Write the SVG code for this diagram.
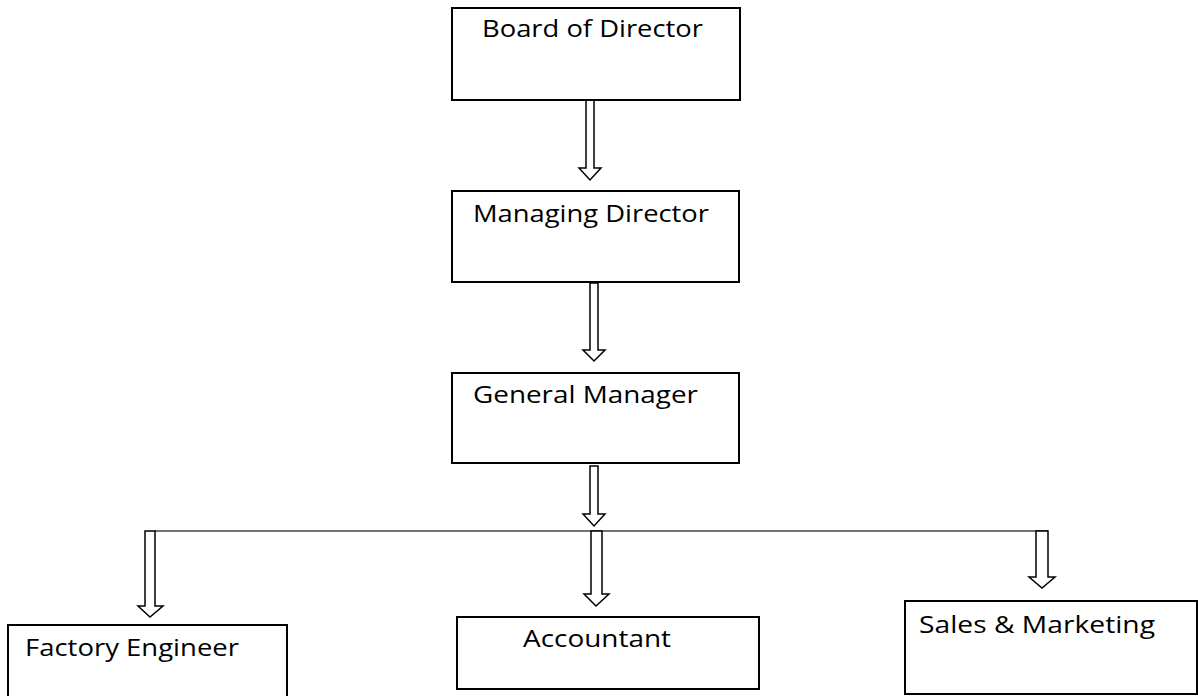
<svg xmlns="http://www.w3.org/2000/svg" width="1198" height="696" viewBox="0 0 1198 696">
<style>
.box{fill:#fff;stroke:#000;stroke-width:2}
.lbl{font-family:"Open Sans","Liberation Sans",Arial,sans-serif;font-size:23.5px;fill:#000}
.arr{fill:#fff;stroke:#000;stroke-width:1.5;stroke-linejoin:miter}
.bus{stroke:#444;stroke-width:1.3;fill:none}
</style>
<rect width="1198" height="696" fill="#fff"/>
<g id="connectors">
<line class="bus" x1="155" y1="531" x2="1048" y2="531"/>
<polygon class="arr" points="586,100 594,100 594,168 601,168 590,180 579,168 586,168"/>
<polygon class="arr" points="590,283 598,283 598,350 605,350 594,361 583,350 590,350"/>
<polygon class="arr" points="590,466 598,466 598,514 605,514 594,526 583,514 590,514"/>
<polygon class="arr" points="145,531 155,531 155,606 163,606 150,617 138,606 145,606"/>
<polygon class="arr" points="591,531 602,531 602,594 609,594 596,606 584,594 591,594"/>
<polygon class="arr" points="1036,531 1048,531 1048,577 1055,577 1042,588 1029,577 1036,577"/>
</g>
<g id="board">
<rect class="box" x="452" y="8" width="288" height="92"/>
<text class="lbl" x="482" y="37" textLength="221" lengthAdjust="spacingAndGlyphs">Board of Director</text>
</g>
<g id="managing">
<rect class="box" x="452" y="191" width="287" height="91"/>
<text class="lbl" x="473" y="222" textLength="236" lengthAdjust="spacingAndGlyphs">Managing Director</text>
</g>
<g id="general">
<rect class="box" x="452" y="373" width="287" height="90"/>
<text class="lbl" x="473" y="403" textLength="225" lengthAdjust="spacingAndGlyphs">General Manager</text>
</g>
<g id="factory">
<rect class="box" x="8" y="625" width="279" height="85"/>
<text class="lbl" x="25" y="656" textLength="214" lengthAdjust="spacingAndGlyphs">Factory Engineer</text>
</g>
<g id="accountant">
<rect class="box" x="457" y="617" width="302" height="72"/>
<text class="lbl" x="523" y="647" textLength="148" lengthAdjust="spacingAndGlyphs">Accountant</text>
</g>
<g id="sales">
<rect class="box" x="905" y="601" width="292" height="93"/>
<text class="lbl" x="919" y="633" textLength="236" lengthAdjust="spacingAndGlyphs">Sales &amp; Marketing</text>
</g>
</svg>
